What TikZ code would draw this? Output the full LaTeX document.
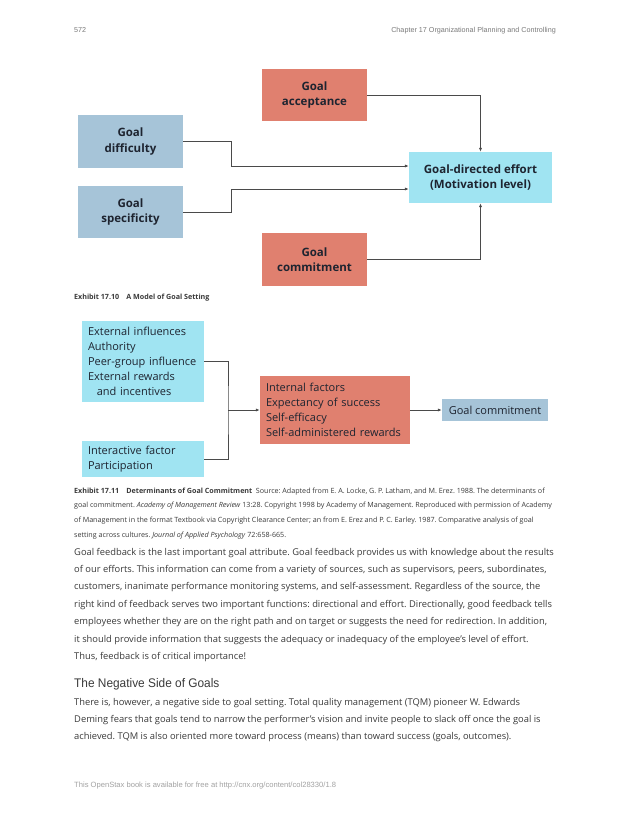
\documentclass[tikz,border=0pt]{standalone}
\usepackage{fontspec}
\setmainfont{Open Sans}
\newfontfamily\headfont{Liberation Sans}
\newfontfamily\titlefont[FakeStretch=0.95]{Liberation Sans}
\usetikzlibrary{arrows.meta}
\definecolor{GoalSalmon}{HTML}{E0806F}
\definecolor{GoalSteel}{HTML}{A6C4D8}
\definecolor{GoalCyan}{HTML}{A0E4F2}
\definecolor{GoalInk}{HTML}{1E2430}
\definecolor{GoalLine}{HTML}{4A4A4A}
\definecolor{PageText}{HTML}{3A3A3A}
\definecolor{PageGray}{HTML}{7A7A7A}
\frenchspacing

\begin{document}
\begin{tikzpicture}[x=1pt, y=-1pt,
    goalbox/.style={minimum width=105pt, minimum height=52pt, inner sep=0pt, align=center,
        font=\fontsize{11.5}{15.5}\selectfont\bfseries, text=GoalInk},
    factbox/.style={inner xsep=6pt, inner ysep=0pt, align=left,
        font=\fontsize{11}{15}\selectfont, text=GoalInk},
    link/.style={draw=GoalLine, line width=0.8pt},
    tip/.style={-{Latex[length=4pt,width=3.2pt]}},
    headtext/.style={font=\headfont\fontsize{7.2}{8}\selectfont, text=PageGray, inner sep=0pt},
    captext/.style={font=\fontsize{7.15}{8}\selectfont, text=PageText, inner sep=0pt},
    bodyline/.style={font=\fontsize{9.35}{10}\selectfont, text=PageText, inner sep=0pt}]

    \fill[white] (0,0) rectangle (630,815);
    \useasboundingbox (0,0) rectangle (630,815);

    % running head and foot
    \node[headtext, anchor=base west] (pagenum) at (74,32) {572};
    \node[headtext, anchor=base east] (chapter) at (556,32) {Chapter 17 Organizational Planning and Controlling};
    \node[headtext, anchor=base west, text=PageGray!70, font=\headfont\fontsize{7.6}{8}\selectfont] (footer) at (74,787) {This OpenStax book is available for free at http://cnx.org/content/col28330/1.8};

    % Exhibit 17.10
    \node[goalbox, fill=GoalSalmon] (accept) at (314.5,95) {Goal\\acceptance};
    \node[goalbox, fill=GoalSteel, minimum height=53pt] (difficult) at (130.5,141.5) {Goal\\difficulty};
    \node[goalbox, fill=GoalSteel] (specific) at (130.5,212) {Goal\\specificity};
    \node[goalbox, fill=GoalSalmon, minimum height=53pt] (commit) at (314.5,259.5) {Goal\\commitment};
    \node[goalbox, fill=GoalCyan, minimum width=143pt, minimum height=51pt] (effort) at (480.5,177.5) {Goal-directed effort\\(Motivation level)};

    \draw[link, tip] (accept.east) -| (effort.north);
    \draw[link, tip] (commit.east) -| (effort.south);
    \draw[link, tip] (difficult.east) -- ++(48,0) |- ([yshift=11.5pt]effort.west);
    \draw[link, tip] (specific.east) -- ++(48,0) |- ([yshift=-11.5pt]effort.west);

    \node[captext, anchor=base west] (cap10) at (74,299) {\textbf{Exhibit 17.10}\quad\textbf{A Model of Goal Setting}};

    % Exhibit 17.11
    \node[factbox, fill=GoalCyan, text width=110pt, minimum height=81pt] (external) at (143,361.5)
        {External influences\\Authority\\Peer-group influence\\External rewards\\\hspace*{0.8em}and incentives};
    \node[factbox, fill=GoalCyan, text width=110pt, minimum height=36pt] (interact) at (143,459)
        {Interactive factor\\Participation};
    \node[factbox, fill=GoalSalmon, text width=138pt, minimum height=68pt] (internal) at (335,410)
        {Internal factors\\Expectancy of success\\Self-efficacy\\Self-administered rewards};
    \node[factbox, fill=GoalSteel, minimum width=106pt, minimum height=22pt, align=center] (goalcom) at (495,410)
        {Goal commitment};
    \coordinate (merge) at (228,410);

    \draw[link] (external.east) -| (merge) |- (interact.east);
    \draw[link, tip] (merge) -- (internal.west);
    \draw[link, tip] (internal.east) -- (goalcom.west);

    \foreach \i/\txt in {
        0/{\textbf{Exhibit 17.11}\quad\textbf{Determinants of Goal Commitment}\enspace Source: Adapted from E. A. Locke, G. P. Latham, and M. Erez. 1988. The determinants of},
        1/{goal commitment. \textit{Academy of Management Review} 13:28. Copyright 1998 by Academy of Management. Reproduced with permission of Academy},
        2/{of Management in the format Textbook via Copyright Clearance Center; an from E. Erez and P. C. Earley. 1987. Comparative analysis of goal},
        3/{setting across cultures. \textit{Journal of Applied Psychology} 72:658-665.}} {
        \node[captext, anchor=base west] (cap11\i) at (74,{493+14.8*\i}) {\txt};
    }

    % body text
    \foreach \i/\txt in {
        0/{Goal feedback is the last important goal attribute. Goal feedback provides us with knowledge about the results},
        1/{of our efforts. This information can come from a variety of sources, such as supervisors, peers, subordinates,},
        2/{customers, inanimate performance monitoring systems, and self-assessment. Regardless of the source, the},
        3/{right kind of feedback serves two important functions: directional and effort. Directionally, good feedback tells},
        4/{employees whether they are on the right path and on target or suggests the need for redirection. In addition,},
        5/{it should provide information that suggests the adequacy or inadequacy of the employee’s level of effort.},
        6/{Thus, feedback is of critical importance!}} {
        \node[bodyline, anchor=base west] (feed\i) at (74,{555+17.4*\i}) {\txt};
    }

    \node[anchor=base west, inner sep=0pt, text=PageText, font=\titlefont\fontsize{12.5}{14}\selectfont] (negative) at (74,687) {The Negative Side of Goals};

    \foreach \i/\txt in {
        0/{There is, however, a negative side to goal setting. Total quality management (TQM) pioneer W. Edwards},
        1/{Deming fears that goals tend to narrow the performer’s vision and invite people to slack off once the goal is},
        2/{achieved. TQM is also oriented more toward process (means) than toward success (goals, outcomes).}} {
        \node[bodyline, anchor=base west] (tqm\i) at (74,{705+17.2*\i}) {\txt};
    }
\end{tikzpicture}
\end{document}
